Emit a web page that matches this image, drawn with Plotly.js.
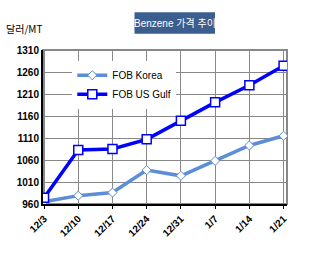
<!DOCTYPE html>
<html><head><meta charset="utf-8">
<script src="https://cdn.plot.ly/plotly-3.0.1.min.js"></script>
<style>html,body{margin:0;padding:0;background:#fff;}#c{width:321px;height:254px;}</style>
</head><body><div id="c"></div>
<script>
var categories = ["12/3","12/10","12/17","12/24","12/31","1/7","1/14","1/21"];
var fobKorea = [965, 979, 986, 1037, 1024, 1058, 1093, 1115];
var fobUSGulf = [974, 1083, 1085, 1107, 1149, 1191, 1230, 1274];
var yTicks = [960, 1010, 1060, 1110, 1160, 1210, 1260, 1310];

var xIdx = categories.map(function(_, i){ return i; });
var data = [
  {x: xIdx, y: fobKorea, name: "FOB Korea", mode: "lines+markers",
   line: {color: "#5B8ED6", width: 3.5},
   marker: {symbol: "diamond", size: 7, color: "#fff", line: {color: "#5B8ED6", width: 1}}},
  {x: xIdx, y: fobUSGulf, name: "FOB US Gulf", mode: "lines+markers",
   line: {color: "#0000FF", width: 3.5},
   marker: {symbol: "square", size: 9, color: "#fff", line: {color: "#0000FF", width: 1.5}}}
];
var layout = {
  width: 321, height: 254,
  margin: {l: 43, r: 34, t: 50, b: 50},
  paper_bgcolor: "#fff", plot_bgcolor: "#fff",
  font: {family: "Liberation Sans, Arial, sans-serif", size: 10, color: "#000"},
  showlegend: true,
  legend: {x: 0.12, y: 0.93, xanchor: "left", yanchor: "top", bgcolor: "#fff",
    font: {size: 10, color: "#000"}, tracegroupgap: 2},
  xaxis: {range: [-0.03, 7.1], tickvals: xIdx, ticktext: categories, tickangle: -45,
    showgrid: true, gridcolor: "#888", gridwidth: 1,
    showline: true, linecolor: "#000", linewidth: 2, mirror: false,
    ticks: "outside", ticklen: 3, tickcolor: "#000",
    tickfont: {size: 10, color: "#000", family: "Liberation Sans, Arial, sans-serif", weight: "bold"},
    zeroline: false, fixedrange: true},
  yaxis: {range: [960, 1310], tickvals: yTicks, showgrid: true, gridcolor: "#888", gridwidth: 1,
    showline: true, linecolor: "#000", linewidth: 2, ticks: "", zeroline: false,
    tickfont: {size: 10, color: "#000", family: "Liberation Sans, Arial, sans-serif", weight: "bold"}},
  shapes: [
    {type: "rect", xref: "paper", yref: "paper", x0: 0, x1: 1, y0: 0, y1: 1, line: {color: "#888", width: 2}, fillcolor: "rgba(0,0,0,0)", layer: "below"},
    {type: "rect", xref: "paper", yref: "paper", x0: 0.375, x1: 0.705, y0: 1.105, y1: 1.245, line: {width: 0}, fillcolor: "#3B5E8F", layer: "below"}
  ],
  annotations: [
    {xref: "paper", yref: "paper", x: 0.54, y: 1.175, text: "Benzene 가격 추이", showarrow: false,
      font: {size: 10, color: "#fff", family: "Liberation Sans, Noto Sans CJK KR, sans-serif"}, xanchor: "center", yanchor: "middle"},
    {xref: "paper", yref: "paper", x: -0.16, y: 1.14, text: "달러/MT", showarrow: false,
      font: {size: 10, color: "#000", family: "Noto Sans CJK KR, sans-serif"}, xanchor: "left", yanchor: "middle"}
  ]
};
Plotly.newPlot("c", data, layout, {displayModeBar: false, staticPlot: true});
</script></body></html>
